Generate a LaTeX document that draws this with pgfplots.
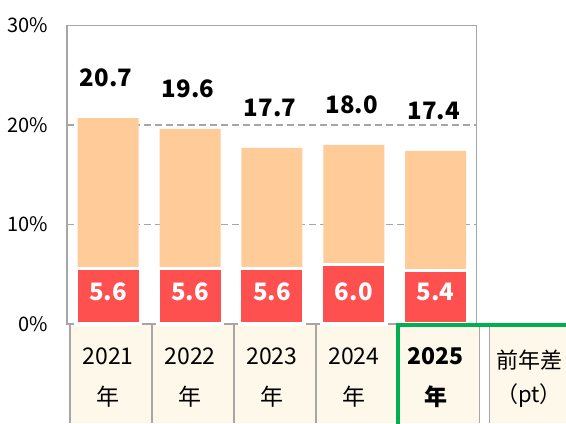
\documentclass[border=0pt]{standalone}
\usepackage{fontspec}
\setmainfont{Noto Sans CJK JP}
\usepackage{pgfplots}
\pgfplotsset{compat=1.18}
\definecolor{peach}{HTML}{FFCC99}
\definecolor{redbar}{HTML}{FF5050}
\definecolor{cream}{HTML}{FEF8EA}
\definecolor{gridgray}{HTML}{A6A6A6}
\definecolor{hlgreen}{HTML}{00B050}
\begin{document}
\begin{tikzpicture}[x=1bp,y=1bp]
\useasboundingbox (0,0) rectangle (566,423);
% table cells below the chart
\fill[cream] (70,0) rectangle (479.5,99.3);
\fill[cream] (489,0) rectangle (566,99.3);
\foreach \xx in {70,152,234,316,398,479.5,489.5}
  \draw[gridgray, line width=1.6bp] (\xx,0) -- (\xx,99.3);
\begin{axis}[
  at={(82,99.3)}, anchor=south west,
  scale only axis, width=409.5bp, height=298.7bp,
  xmin=-0.5, xmax=4.5, ymin=0, ymax=30,
  ytick={0,10,20,30},
  yticklabel={\pgfmathprintnumber{\tick}\%},
  yticklabel style={font=\fontsize{20bp}{24bp}\selectfont, anchor=east, inner sep=0pt, xshift=-19bp},
  xtick={0,1,2,3,4},
  xticklabels={{2021\\年},{2022\\年},{2023\\年},{2024\\年},{\textbf{2025}\\\textbf{年}}},
  xticklabel style={align=center, font=\fontsize{23bp}{41bp}\selectfont, anchor=north, inner sep=0pt, yshift=-23bp},
  major tick length=0pt,
  axis line style={gridgray, line width=1.6bp},
  ymajorgrids,
  grid style={gridgray, line width=1.6bp, dash pattern=on 7bp off 4bp},
  /pgf/number format/assume math mode=true,
  clip=false,
]
\addplot[ybar, bar width=61bp, bar shift=0pt, fill=peach, draw=none,
  nodes near coords={\pgfmathprintnumber[fixed,fixed zerofill,precision=1]{\pgfplotspointmeta}},
  every node near coord/.append style={font=\bfseries\fontsize{24bp}{28bp}\selectfont, anchor=south, inner sep=0pt, yshift=31bp, text=black, xshift=-2bp},
] coordinates {(0,20.7) (1,19.6) (2,17.7) (3,18.0) (4,17.4)};
\addplot[ybar, bar width=64.3bp, bar shift=0pt, fill=redbar, draw=white, line width=3.3bp,
  visualization depends on=rawy \as \ry,
  nodes near coords={\pgfmathprintnumber[fixed,fixed zerofill,precision=1]{\pgfplotspointmeta}},
  every node near coord/.append style={font=\bfseries\fontsize{24bp}{28bp}\selectfont, anchor=center, inner sep=0pt, yshift={32.2bp-\ry*9.957bp}, text=white},
] coordinates {(0,5.6) (1,5.6) (2,5.6) (3,6.0) (4,5.4)};
\end{axis}
\node[font=\fontsize{22bp}{26bp}\selectfont] at (529,63) {前年差};
\node[font=\fontsize{22bp}{26bp}\selectfont] at (529,27) {（pt）};
\draw[hlgreen, line width=4bp] (398,-5) -- (398,98) -- (580,98);
\end{tikzpicture}
\end{document}
